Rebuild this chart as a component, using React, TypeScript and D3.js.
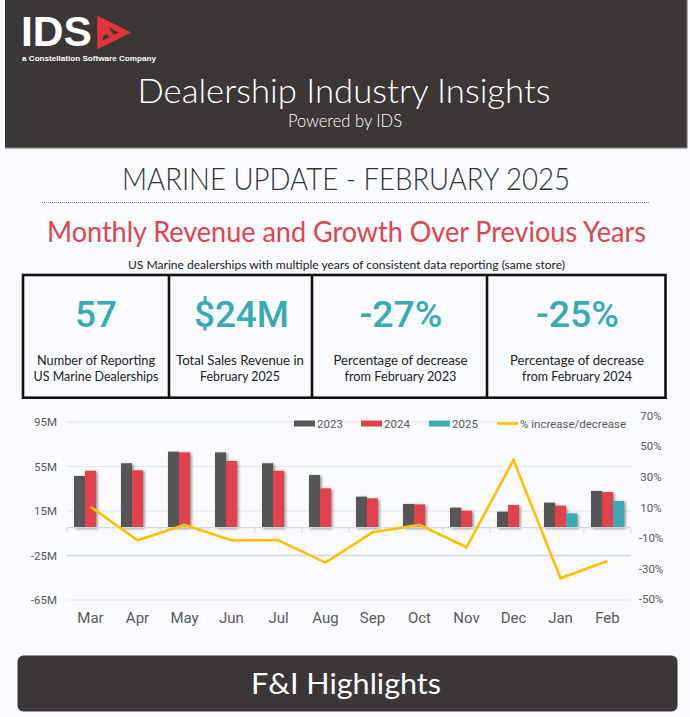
import React, { useEffect } from "react";
import * as d3 from "d3";

const months = ["Mar", "Apr", "May", "Jun", "Jul", "Aug", "Sep", "Oct", "Nov", "Dec", "Jan", "Feb"];
const rev2023 = [46.5, 57.9, 68.3, 67.7, 57.9, 47.4, 27.9, 21.3, 18.0, 14.4, 22.5, 33];
const rev2024 = [51.2, 51.6, 67.7, 60.0, 51.2, 35.4, 26.4, 21.0, 15.3, 20.4, 19.8, 32];
const rev2025: (number | null)[] = [null, null, null, null, null, null, null, null, null, null, 12.9, 24];
const pctChange = [10.5, -11.4, -1.4, -11.4, -11.4, -26, -6.2, -1.4, -16, 41, -36.3, -25];

const leftTicks = [95, 55, 15, -25, -65];
const rightTicks = [70, 50, 30, 10, -10, -30, -50];
const seriesNames = ["2023", "2024", "2025"];
const lineName = "% increase/decrease";

const kpiValues = ["57", "$24M", "-27%", "-25%"];
const kpiLabels = [
  ["Number of Reporting", "US Marine Dealerships"],
  ["Total Sales Revenue in", "February 2025"],
  ["Percentage of decrease", "from February 2023"],
  ["Percentage of decrease", "from February 2024"],
];

const DARK = "#3b3736";
const GRAY = "#575757";
const RED = "#e1434b";
const TEAL = "#3aabb3";
const GOLD = "#ffc000";
const TXT = "#595959";
const BG = "#f9fbfe";
const FONT = "Lato, 'Open Sans', sans-serif";
const NUMFONT = "Roboto, 'Open Sans', sans-serif";

function T(props: any) {
  const { x, y, size, w, anchor = "middle", fill = "#333", weight = 400, family = FONT, children } = props;
  return (
    <text
      x={x}
      y={y}
      fontSize={size}
      textAnchor={anchor}
      fill={fill}
      fontWeight={weight}
      fontFamily={family}
      textLength={w}
      lengthAdjust={w ? "spacingAndGlyphs" : undefined}
    >
      {children}
    </text>
  );
}

export default function App() {
  useEffect(() => {
    document.body.style.margin = "0";
    document.body.style.background = BG;
  }, []);

  const x = d3.scaleBand<string>().domain(months).range([67, 631]).paddingInner(0).paddingOuter(0);
  const yL = d3.scaleLinear().domain([-65, 95]).range([600, 422]);
  const yR = d3.scaleLinear().domain([-50, 70]).range([599.3, 415.7]);
  const bw = 11;
  const offsets = [-16.5, -5.5, 5.5];
  const colors = [GRAY, RED, TEAL];
  const series = [rev2023, rev2024, rev2025];
  const cx = (m: string) => (x(m) as number) + x.bandwidth() / 2;

  const line = d3
    .line<number>()
    .x((_, i) => cx(months[i]))
    .y((d) => yR(d));

  const boxX = [23, 169, 312, 487, 665.5];

  const legendItems = [
    { sx: 294, tx: 317, c: GRAY, label: seriesNames[0] },
    { sx: 361, tx: 384, c: RED, label: seriesNames[1] },
    { sx: 429, tx: 452, c: TEAL, label: seriesNames[2] },
  ];

  return (
    <svg width={690} height={717} style={{ position: "absolute", left: 0, top: 0, display: "block" }}>
      <defs>
        <filter id="sh" x="-50%" y="-20%" width="200%" height="140%">
          <feDropShadow dx="1.5" dy="1" stdDeviation="1.4" floodColor="#000" floodOpacity="0.45" />
        </filter>
      </defs>
      <rect x={0} y={0} width={690} height={717} fill={BG} />
      {/* Header */}
      <rect x={5} y={0} width={682} height={148} fill={DARK} />
      <rect x={5} y={147} width={682} height={1.5} fill="#6a6767" />
      <rect x={686} y={0} width={1.5} height={148} fill="#5a5756" />
      <T x={21} y={46} size={43} weight={700} anchor="start" fill="#fff" family="'Liberation Sans', Arial, sans-serif" w={71}>
        IDS
      </T>
      <g fill="none" stroke="#e2333d" strokeWidth={5.5} strokeLinejoin="miter">
        <path d="M100,20 L125,32.5 L100,45 Z" />
        <path d="M100,20 L113,38" />
        <path d="M108,28 L100,36" />
      </g>
      <T x={22} y={61} size={8} weight={700} anchor="start" fill="#fff" family="'Liberation Sans', Arial, sans-serif" w={134}>
        a Constellation Software Company
      </T>
      <T x={344} y={103} size={34} fill="#fff" weight={300} w={413}>
        Dealership Industry Insights
      </T>
      <T x={345} y={127} size={17} fill="#fff" weight={300} w={114}>
        Powered by IDS
      </T>

      {/* Titles */}
      <T x={346} y={190} size={31} fill="#333" weight={300} w={448}>
        MARINE UPDATE - FEBRUARY 2025
      </T>
      <line x1={42} x2={650} y1={202.5} y2={202.5} stroke="#888" strokeWidth={1} strokeDasharray="1,1" />
      <T x={346.5} y={242} size={28} fill="#e0454b" weight={400} w={599}>
        Monthly Revenue and Growth Over Previous Years
      </T>
      <T x={346.5} y={269} size={12} fill="#222" w={437}>
        US Marine dealerships with multiple years of consistent data reporting (same store)
      </T>

      {/* KPI boxes */}
      <rect x={23} y={275} width={642.5} height={122.7} fill="none" stroke="#111" strokeWidth={2.6} />
      {[1, 2, 3].map((i) => (
        <line key={i} x1={boxX[i]} x2={boxX[i]} y1={275} y2={397.7} stroke="#111" strokeWidth={2.6} />
      ))}
      {kpiValues.map((v, i) => {
        const widths = [42, 95, 83, 83];
        const c = [96, 241.5, 401, 577.5][i];
        return (
          <T key={v + i} x={c} y={327} size={37} weight={500} fill={TEAL} family={NUMFONT} w={widths[i]}>
            {v}
          </T>
        );
      })}
      {kpiLabels.map((ls, i) => {
        const w1 = [118, 128, 134, 134];
        const w2 = [125, 80, 112, 110];
        const c = [96, 240, 400.5, 577][i];
        return (
          <g key={i}>
            <T x={c} y={364.5} size={13.5} fill="#222" w={w1[i]}>
              {ls[0]}
            </T>
            <T x={c} y={380.5} size={13.5} fill="#222" w={w2[i]}>
              {ls[1]}
            </T>
          </g>
        );
      })}

      {/* Chart gridlines */}
      {leftTicks.map((t) => (
        <line key={t} x1={67} x2={631} y1={yL(t)} y2={yL(t)} stroke={t === -25 ? "#cfd8e6" : "#e1e7f0"} strokeWidth={t === -25 ? 1.5 : 1} />
      ))}
      {leftTicks.map((t) => (
        <T key={"l" + t} x={57} y={yL(t) + 4} size={11.5} anchor="end" fill={TXT} family={NUMFONT}>
          {t + "M"}
        </T>
      ))}
      {rightTicks.map((t) => (
        <T key={"r" + t} x={651} y={yR(t) + 4} size={11.5} fill={TXT} family={NUMFONT}>
          {t + "%"}
        </T>
      ))}

      {/* Bars */}
      <g filter="url(#sh)">
        {months.map((m, i) =>
          series.map((s, k) => {
            const v = s[i];
            if (v == null) return null;
            const y0 = yL(0);
            const y1 = yL(v);
            return <rect key={m + k} x={cx(m) + offsets[k]} y={y1} width={bw} height={y0 - y1} fill={colors[k]} />;
          })
        )}
      </g>

      {/* zero axis */}
      <line x1={67} x2={631} y1={yL(0)} y2={yL(0)} stroke="#d6d9de" strokeWidth={1.2} />
      {months.map((m) => (
        <line key={"tk" + m} x1={x(m) as number} x2={x(m) as number} y1={yL(0)} y2={yL(0) + 5} stroke="#d6d9de" strokeWidth={1} />
      ))}
      <line x1={631} x2={631} y1={yL(0)} y2={yL(0) + 5} stroke="#d6d9de" strokeWidth={1} />

      {/* Line */}
      <path d={line(pctChange) as string} fill="none" stroke={GOLD} strokeWidth={2.6} strokeLinejoin="miter" />

      {/* Month labels */}
      {months.map((m) => (
        <T key={"m" + m} x={cx(m)} y={623} size={15} fill={TXT} family={NUMFONT}>
          {m}
        </T>
      ))}

      {/* Legend */}
      {legendItems.map((li) => (
        <g key={li.label}>
          <rect x={li.sx} y={420.5} width={21} height={6} fill={li.c} />
          <T x={li.tx} y={427.5} size={11.5} anchor="start" fill={TXT} family={NUMFONT}>
            {li.label}
          </T>
        </g>
      ))}
      <line x1={497} x2={518} y1={423.5} y2={423.5} stroke={GOLD} strokeWidth={2.6} />
      <T x={520} y={427.5} size={11.5} anchor="start" fill={TXT} family={NUMFONT} w={106}>
        {lineName}
      </T>

      {/* Bottom banner */}
      <rect x={17.5} y={655.5} width={660} height={56} rx={6} fill={DARK} />
      <T x={346} y={694} size={29} fill="#fff" w={190}>
        F&amp;I Highlights
      </T>
    </svg>
  );
}
